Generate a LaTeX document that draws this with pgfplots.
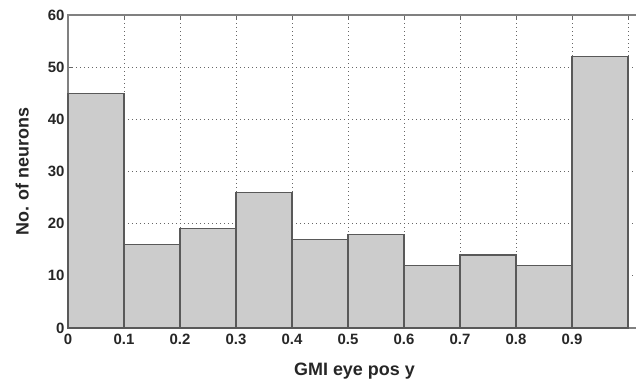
\documentclass[border=0pt]{standalone}
\usepackage{fontspec}
\setmainfont{Liberation Sans}
\usepackage{pgfplots}
\pgfplotsset{compat=1.18}
\begin{document}
\begin{tikzpicture}
\begin{axis}[
  scale only axis,
  width=588bp, height=313bp,
  xmin=0, xmax=1.05, ymin=0, ymax=60,
  xtick={0,0.1,0.2,0.3,0.4,0.5,0.6,0.7,0.8,0.9,1},
  xticklabels={0,0.1,0.2,0.3,0.4,0.5,0.6,0.7,0.8,0.9,},
  ytick={0,10,20,30,40,50,60},
  grid=major,
  major grid style={dash pattern=on 1.2bp off 2.8bp, black!60, line width=0.8pt},
  axis line style={black!50, line width=1.4pt},
  tick style={black!60, line width=0.8pt},
  tick align=inside,
  major tick length=4bp,
  /pgf/number format/assume math mode=true,
  ticklabel style={font=\fontsize{15}{17}\selectfont\bfseries, text=black!85},
  xticklabel style={yshift=-3bp},
  xlabel={GMI eye pos y},
  ylabel={No. of neurons},
  label style={font=\fontsize{18}{21}\selectfont\bfseries, text=black!85},
  xlabel style={at={(axis description cs:0.4872,-0.137)}, anchor=center},
  ylabel style={at={(axis description cs:-0.078,0.5)}, anchor=center},
  clip=false,
]
\addplot[ybar interval, fill=black!20, draw=black!65, line width=1.2pt]
  coordinates {(0,45)(0.1,16)(0.2,19)(0.3,26)(0.4,17)(0.5,18)(0.6,12)(0.7,14)(0.8,12)(0.9,52)(1,52)};
\end{axis}
\pgfresetboundingbox
\path (-68bp,-54bp) rectangle (568bp,328bp);
\end{tikzpicture}
\end{document}
